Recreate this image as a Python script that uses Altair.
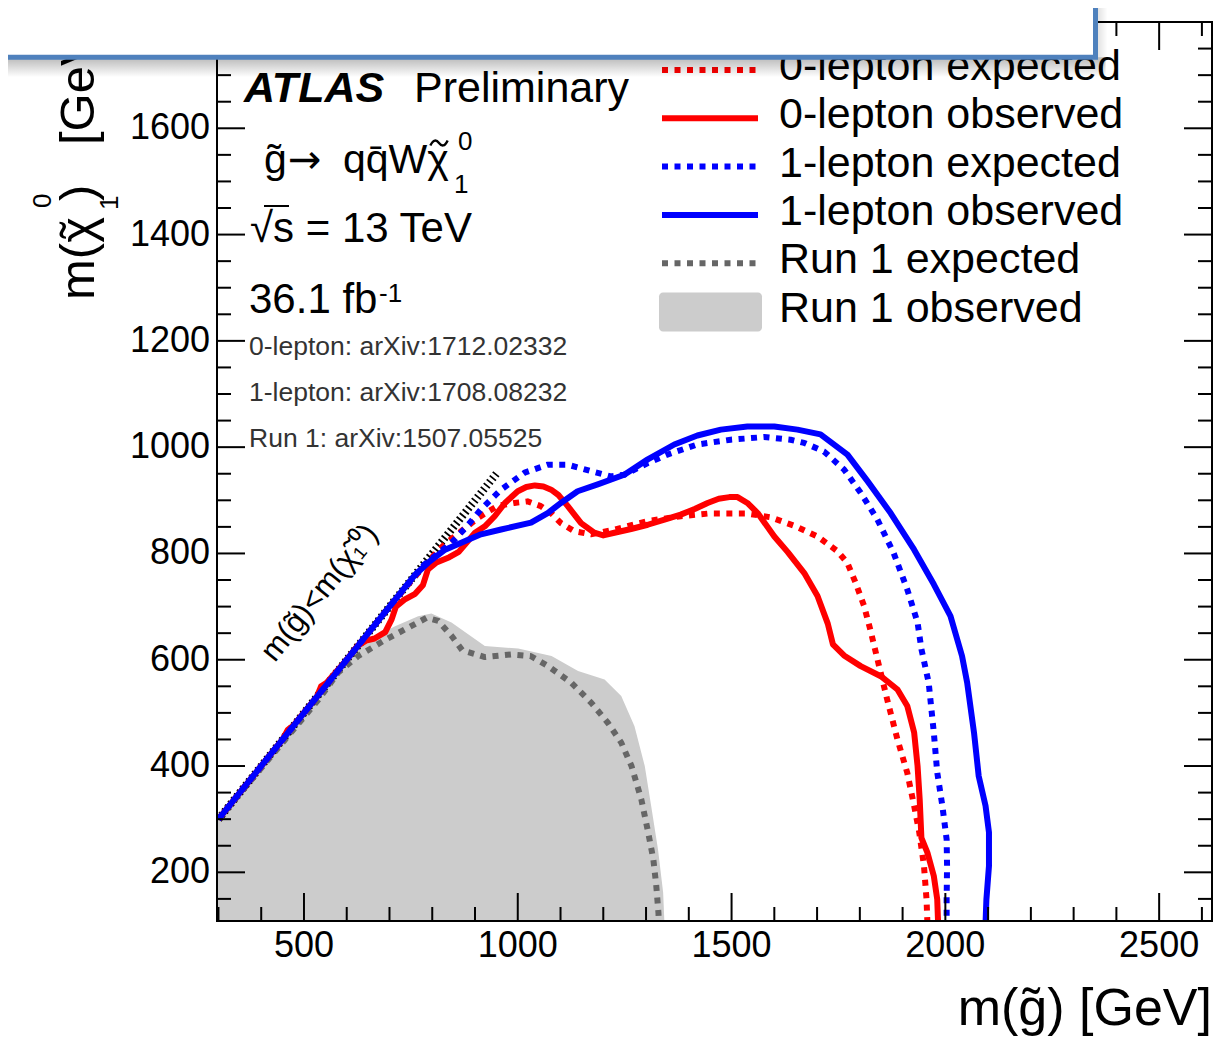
import altair as alt
import pandas as pd

# ---------------- chart values ----------------
# 0-lepton expected (red dotted)
exp0_x = [300, 500, 700, 790, 830, 868, 907, 954, 992, 1023, 1054, 1078, 1101, 1132, 1171, 1226, 1304, 1381, 1444, 1537,
          1592, 1650, 1701, 1748, 1771, 1790, 1810, 1825, 1845, 1864, 1888, 1911, 1927, 1939, 1950, 1956, 1958]
exp0_y = [300, 500, 700, 785, 818, 842, 867, 890, 895, 898, 889, 876, 857, 842, 836, 845, 861, 870, 875, 875,
          868, 851, 832, 804, 782, 745, 701, 655, 588, 525, 450, 387, 325, 275, 212, 149, 105]
# 0-lepton observed (red solid)
obs0_x = [300, 450, 462, 475, 530, 540, 552, 600, 625, 645, 665, 690, 705, 715, 735, 760, 778, 790, 810, 840,
          862, 878, 900, 923, 946, 970, 1000, 1020, 1040, 1060, 1078, 1095, 1117, 1148, 1179, 1200, 1226, 1265, 1304, 1345,
          1381, 1415, 1444, 1470, 1495, 1514, 1537, 1561, 1600, 1631, 1670, 1701, 1725, 1737, 1763, 1802, 1849, 1888, 1911, 1927,
          1935, 1940, 1944, 1958, 1973, 1981, 1983]
obs0_y = [300, 450, 468, 476, 530, 550, 556, 600, 626, 636, 640, 652, 676, 700, 713, 724, 740, 770, 783, 793,
          803, 818, 839, 851, 870, 895, 917, 925, 928, 926, 920, 910, 889, 857, 839, 834, 839, 846, 854, 864,
          873, 884, 895, 903, 906, 906, 895, 876, 832, 803, 763, 720, 668, 629, 608, 588, 569, 544, 513, 463,
          400, 337, 265, 237, 193, 149, 105]
# 1-lepton expected (blue dotted)
exp1_x = [300, 500, 700, 780, 806, 845, 880, 914, 961, 1016, 1070, 1117, 1171, 1218, 1249, 1304, 1350, 1420, 1498, 1576,
          1638, 1670, 1716, 1763, 1802, 1841, 1879, 1911, 1935, 1944, 1961, 1973, 1981, 1993, 2003, 2004, 2003, 2003]
exp1_y = [300, 500, 700, 778, 795, 820, 850, 883, 920, 952, 967, 967, 955, 945, 948, 970, 986, 1005, 1014, 1019,
          1014, 1008, 992, 958, 914, 864, 801, 732, 670, 620, 557, 463, 388, 325, 262, 212, 150, 105]
# 1-lepton observed (blue solid)
obs1_x = [300, 500, 700, 760, 791, 830, 884, 914, 961, 1031, 1070, 1101, 1140, 1187, 1249, 1304, 1366, 1420, 1475, 1537,
          1600, 1654, 1708, 1771, 1818, 1872, 1927, 1973, 2012, 2039, 2051, 2067, 2078, 2094, 2102, 2102, 2096, 2094]
obs1_y = [300, 500, 700, 760, 783, 807, 826, 836, 845, 858, 876, 895, 917, 930, 948, 977, 1005, 1022, 1033, 1039,
          1039, 1033, 1024, 986, 936, 876, 807, 742, 682, 607, 557, 463, 381, 325, 275, 212, 149, 105]
# Run 1 expected (grey dotted)
run1exp_x = [300, 378, 456, 534, 580, 627, 689, 736, 787, 814, 845, 870, 923, 985, 1030, 1071, 1125, 1172, 1211, 1242,
             1266, 1289, 1305, 1317, 1324, 1329, 1330]
run1exp_y = [300, 375, 450, 525, 576, 607, 637, 657, 679, 673, 645, 618, 605, 610, 607, 588, 557, 519, 481, 444,
             400, 337, 275, 225, 174, 124, 105]
# Run 1 observed (grey filled region, upper edge)
run1obs_x = [297, 620, 670, 713, 767, 798, 845, 923, 1001, 1079, 1141, 1203, 1242, 1273, 1297, 1312, 1328, 1340, 1343]
run1obs_y = [297, 620, 645, 663, 682, 687, 670, 626, 621, 607, 579, 563, 532, 475, 400, 325, 243, 162, 105]
# kinematic boundary m(gluino) = m(neutralino)
kin_x = [300, 950]
kin_y = [300, 950]

x_major = [500, 1000, 1500, 2000, 2500]
x_minor = [300, 400, 600, 700, 800, 900, 1100, 1200, 1300, 1400, 1600, 1700, 1800, 1900,
           2100, 2200, 2300, 2400, 2600]
y_major = [200, 400, 600, 800, 1000, 1200, 1400, 1600]
y_minor = [150, 250, 300, 350, 450, 500, 550, 650, 700, 750, 850, 900, 950, 1050, 1100, 1150,
           1250, 1300, 1350, 1450, 1500, 1550, 1650, 1700, 1750]

legend_labels = ["0-lepton expected", "0-lepton observed", "1-lepton expected",
                 "1-lepton observed", "Run 1 expected", "Run 1 observed"]
ref_labels = ["0-lepton: arXiv:1712.02332", "1-lepton: arXiv:1708.08232", "Run 1: arXiv:1507.05525"]

# ---------------- layout / style ----------------
FONT = "Liberation Sans"
W, H = 995, 899
X_DOMAIN = [296.6, 2623.6]
Y_DOMAIN = [108.4, 1800.0]
RED, BLUE, DGREY, LGREY = "#ff0000", "#0000ff", "#666666", "#cccccc"
DOT = [6, 6.5]
TILDE_PATH = "M -1 0.3 C -0.65 -0.45 -0.3 -0.4 0 0 C 0.3 0.4 0.65 0.45 1 -0.3"

xs = alt.Scale(domain=X_DOMAIN, nice=False, zero=False)
ys = alt.Scale(domain=Y_DOMAIN, nice=False, zero=False)


def curve_df(xv, yv):
    return pd.DataFrame({"x": xv, "y": yv, "i": list(range(len(xv)))})


def curve(xv, yv, color, dash=None, width=6):
    kw = dict(color=color, strokeWidth=width, clip=True, strokeCap="butt", strokeJoin="round")
    if dash:
        kw["strokeDash"] = dash
    return alt.Chart(curve_df(xv, yv)).mark_line(**kw).encode(
        x=alt.X("x:Q", scale=xs, axis=None),
        y=alt.Y("y:Q", scale=ys, axis=None),
        order="i:Q",
    )


def one():
    return pd.DataFrame({"t": [""]})


def text(t, x, y, size, color="black", align="left", baseline="alphabetic", angle=0, font=FONT, **kw):
    return alt.Chart(pd.DataFrame({"t": [t]})).mark_text(
        font=font, fontSize=size, color=color, align=align, baseline=baseline, angle=angle, **kw
    ).encode(x=alt.value(x), y=alt.value(y), text="t:N")


def ticks(vals, side, length):
    df = pd.DataFrame({"v": vals})
    m = alt.Chart(df).mark_rule(color="black", strokeWidth=2)
    if side == "bottom":
        return m.encode(x=alt.X("v:Q", scale=xs, axis=None), y=alt.value(H), y2=alt.value(H - length))
    if side == "top":
        return m.encode(x=alt.X("v:Q", scale=xs, axis=None), y=alt.value(0), y2=alt.value(length))
    if side == "left":
        return m.encode(y=alt.Y("v:Q", scale=ys, axis=None), x=alt.value(0), x2=alt.value(length))
    return m.encode(y=alt.Y("v:Q", scale=ys, axis=None), x=alt.value(W), x2=alt.value(W - length))


layers = []

# Run 1 observed: filled region
layers.append(
    alt.Chart(curve_df(run1obs_x, run1obs_y)).mark_area(color=LGREY, clip=True).encode(
        x=alt.X("x:Q", scale=xs, axis=None),
        y=alt.Y("y:Q", scale=ys, axis=None),
        y2=alt.value(H),
    )
)
# kinematic limit
layers.append(curve(kin_x, kin_y, "black", dash=[1.8, 3.0], width=8))
# contours
layers.append(curve(run1exp_x, run1exp_y, DGREY, dash=DOT))
layers.append(curve(exp0_x, exp0_y, RED, dash=DOT))
layers.append(curve(obs0_x, obs0_y, RED))
layers.append(curve(exp1_x, exp1_y, BLUE, dash=DOT))
layers.append(curve(obs1_x, obs1_y, BLUE))

# ticks pointing inwards on all four sides
for side in ["bottom", "top"]:
    layers.append(ticks(x_major, side, 28))
    layers.append(ticks(x_minor, side, 14))
for side in ["left", "right"]:
    layers.append(ticks(y_major, side, 28))
    layers.append(ticks(y_minor, side, 14))

# tick labels through the scales
layers.append(
    alt.Chart(pd.DataFrame({"v": x_major})).mark_text(
        font=FONT, fontSize=36, color="black", align="center", baseline="top"
    ).encode(x=alt.X("v:Q", scale=xs, axis=None), y=alt.value(H + 8), text=alt.Text("v:Q", format="d"))
)
layers.append(
    alt.Chart(pd.DataFrame({"v": y_major})).mark_text(
        font=FONT, fontSize=36, color="black", align="right", baseline="middle"
    ).encode(y=alt.Y("v:Q", scale=ys, axis=None), x=alt.value(-7), text=alt.Text("v:Q", format="d"))
)

# frame
layers.append(
    alt.Chart(one()).mark_rect(fillOpacity=0, stroke="black", strokeWidth=2).encode(
        x=alt.value(0), x2=alt.value(W), y=alt.value(0), y2=alt.value(H)
    )
)

# axis titles
layers.append(text("m(g\u0303) [GeV]", W, 1003, 52, align="right"))
layers.append(text("m(\u03c7", -123, 278, 49, angle=270))
layers.append(text("\u02dc", -123, 208, 49, angle=270, align="center"))
layers.append(text("0", -166, 186, 26, angle=270))
layers.append(text("1", -99, 188, 26, angle=270))
layers.append(text(")", -123, 179, 49, angle=270))
layers.append(text("[GeV]", -123, 123, 49, angle=270))

# annotations
layers.append(text("ATLAS", 27, 80, 43, fontWeight="bold", fontStyle="italic"))
layers.append(text("Preliminary", 197, 80, 43))
layers.append(text("g\u0303", 47, 151, 41))
layers.append(text("\u2192", 71, 151, 40, font="DejaVu Sans"))
layers.append(text("qq\u0304W\u03c7", 126, 151, 41))
layers.append(
    alt.Chart(one()).mark_point(shape=TILDE_PATH, size=300, filled=False, stroke="black",
                                strokeWidth=2.4, opacity=1).encode(
        x=alt.value(222), y=alt.value(121)
    )
)
layers.append(text("0", 241, 128, 26))
layers.append(text("1", 237, 171, 26))
layers.append(text("\u221as = 13 TeV", 33, 220, 42))
layers.append(
    alt.Chart(one()).mark_rule(color="black", strokeWidth=2).encode(
        x=alt.value(47), x2=alt.value(72), y=alt.value(184)
    )
)
layers.append(text("36.1 fb", 32, 291, 42))
layers.append(text("-1", 162, 280, 26))
for k, lab in enumerate(ref_labels):
    layers.append(text(lab, 32, 333 + k * 46.2, 26.5, color="#333333"))
layers.append(text("m(g\u0303)<m(\u03c7\u0303\u2081\u2070)", 103, 571, 31,
                   align="center", baseline="middle", angle=309))

# legend
LEG_X, LEG_TOP, LEG_STEP = 562, 58, 48.3
leg_styles = [(RED, DOT), (RED, None), (BLUE, DOT), (BLUE, None), (DGREY, DOT), (LGREY, "box")]
for k, (lab, (col, dash)) in enumerate(zip(legend_labels, leg_styles)):
    yb = LEG_TOP + k * LEG_STEP
    layers.append(text(lab, LEG_X, yb, 43))
    if dash == "box":
        layers.append(
            alt.Chart(one()).mark_rect(color=col, cornerRadius=4).encode(
                x=alt.value(442), x2=alt.value(545), y=alt.value(yb - 29), y2=alt.value(yb + 10)
            )
        )
    else:
        kw = dict(color=col, strokeWidth=6, strokeCap="butt")
        if dash:
            kw["strokeDash"] = dash
        layers.append(
            alt.Chart(one()).mark_rule(**kw).encode(
                x=alt.value(445), x2=alt.value(541), y=alt.value(yb - 10)
            )
        )

# overlaid callout box with drop shadow (as in the reference picture)
BOX_R, BOX_B = 878.5, 35.2
shadow_v = alt.LinearGradient(gradient="linear", x1=0, x2=0, y1=0, y2=1,
                              stops=[alt.GradientStop(color="rgba(0,0,0,0.28)", offset=0),
                                     alt.GradientStop(color="rgba(0,0,0,0)", offset=1)])
shadow_h = alt.LinearGradient(gradient="linear", x1=0, x2=1, y1=0, y2=0,
                              stops=[alt.GradientStop(color="rgba(0,0,0,0.14)", offset=0),
                                     alt.GradientStop(color="rgba(0,0,0,0)", offset=1)])
layers.append(
    alt.Chart(one()).mark_rect(color=shadow_v).encode(
        x=alt.value(-260), x2=alt.value(BOX_R + 10), y=alt.value(BOX_B), y2=alt.value(BOX_B + 20)
    )
)
layers.append(
    alt.Chart(one()).mark_rect(color=shadow_h).encode(
        x=alt.value(BOX_R), x2=alt.value(BOX_R + 12), y=alt.value(-40), y2=alt.value(BOX_B)
    )
)
layers.append(
    alt.Chart(one()).mark_rect(fill="white", stroke="#4f81bd", strokeWidth=5).encode(
        x=alt.value(-260), x2=alt.value(BOX_R), y=alt.value(-40), y2=alt.value(BOX_B)
    )
)

chart = alt.layer(*layers).properties(
    width=W, height=H,
    autosize=alt.AutoSizeParams(type="none"),
    padding={"left": 209, "top": 14, "right": 6, "bottom": 118},
    background="white",
).configure_view(stroke=None)

chart.save("out.html", embed_options={"renderer": "svg", "actions": False})
